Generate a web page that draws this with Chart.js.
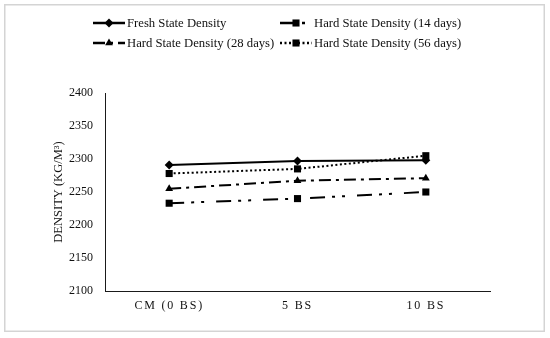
<!DOCTYPE html>
<html><head><meta charset="utf-8">
<script src="https://cdn.jsdelivr.net/npm/chart.js@4/dist/chart.umd.min.js"></script>
<style>html,body{margin:0;padding:0;background:#fff}#wrap{width:550px;height:338px;position:relative}</style>
</head><body><div id="wrap"><canvas id="c" width="550" height="338"></canvas></div>
<script>
const categories = ['CM (0 BS)', '5 BS', '10 BS'];
const seriesLabels = ['Fresh State Density', 'Hard State Density (14 days)', 'Hard State Density (28 days)', 'Hard State Density (56 days)'];
const freshState = [2291, 2297, 2298];
const hard14 = [2233, 2240, 2250];
const hard28 = [2255, 2267, 2271];
const hard56 = [2278, 2285, 2305];
const yMin = 2100, yMax = 2400, yStep = 50;
const yTitle = 'DENSITY (KG/M³)';

const FONT = "'Liberation Serif', 'Times New Roman', serif";
const INK = '#111';
Chart.defaults.font.family = FONT;

const framePlugin = {
  id: 'frame',
  beforeDraw(chart) {
    const ctx = chart.ctx;
    ctx.save();
    ctx.fillStyle = '#fff';
    ctx.fillRect(0, 0, chart.width, chart.height);
    ctx.strokeStyle = '#d4d4d4';
    ctx.lineWidth = 1.5;
    ctx.strokeRect(4.75, 4.75, 539.5, 326.5);
    ctx.restore();
    const xs = chart.scales.x;
    if (xs && !xs._spaced) {
      const orig = xs.drawLabels;
      xs.drawLabels = function (a) {
        const c = this.ctx; c.save(); c.letterSpacing = '1.8px'; orig.call(this, a); c.restore();
      };
      xs._spaced = true;
    }
  }
};

const legendPlugin = {
  id: 'gridLegend',
  afterDraw(chart) {
    const ctx = chart.ctx;
    const pos = [[93, 23], [280, 23], [93, 43], [280, 43]];
    chart.data.datasets.forEach((ds, i) => {
      const [x, y] = pos[i];
      ctx.save();
      ctx.strokeStyle = ds.borderColor;
      ctx.lineWidth = 2.5;
      ctx.setLineDash(ds.borderDash || []);
      ctx.beginPath(); ctx.moveTo(x, y); ctx.lineTo(x + 32, y); ctx.stroke();
      ctx.setLineDash([]);
      ctx.fillStyle = ds.pointBackgroundColor;
      ctx.strokeStyle = ds.pointBackgroundColor;
      Chart.helpers.drawPoint(ctx, {pointStyle: ds.pointStyle, radius: ds.pointRadius, rotation: 0, borderWidth: 0}, x + 16, y);
      ctx.fillStyle = INK;
      ctx.font = "12.7px " + FONT;
      ctx.textBaseline = 'middle';
      ctx.textAlign = 'left';
      ctx.fillText(ds.label, x + 34, y + 0.5);
      ctx.restore();
    });
  }
};

function mk(label, data, dash, style, r, order) {
  return {
    label, data, order,
    borderColor: '#000', backgroundColor: '#000',
    pointBackgroundColor: '#000', pointBorderColor: '#000', pointBorderWidth: 0,
    borderWidth: 2, borderDash: dash, pointStyle: style, pointRadius: r, pointHoverRadius: r,
    tension: 0, fill: false
  };
}

new Chart(document.getElementById('c'), {
  type: 'line',
  data: {
    labels: categories,
    datasets: [
      mk(seriesLabels[0], freshState, [], 'rectRot', 4.5, 4),
      mk(seriesLabels[1], hard14, [15, 7, 3, 7, 3, 12], 'rect', 5, 3),
      mk(seriesLabels[2], hard28, [12, 5, 3, 5], 'triangle', 4.5, 2),
      mk(seriesLabels[3], hard56, [2, 2.5], 'rect', 5, 1)
    ]
  },
  options: {
    responsive: false,
    animation: false,
    devicePixelRatio: 1,
    layout: {padding: {left: 0, right: 60, top: 93, bottom: 5}},
    plugins: {legend: {display: false}, tooltip: {enabled: false}, title: {display: false}},
    scales: {
      x: {
        type: 'category', offset: true,
        grid: {display: false, drawTicks: false},
        border: {display: true, color: '#1a1a1a', width: 1},
        ticks: {color: INK, font: {family: FONT, size: 12}, padding: 8, maxRotation: 0},
        afterFit(s) { s.height = 42; }
      },
      y: {
        min: yMin, max: yMax,
        grid: {display: false, drawTicks: false},
        border: {display: true, color: '#1a1a1a', width: 1},
        ticks: {stepSize: yStep, color: INK, font: {family: FONT, size: 12}, padding: 12,
                callback: v => String(v)},
        title: {display: true, text: yTitle, color: INK, font: {family: FONT, size: 12.5}, padding: {top: 51, bottom: 0}},
        afterFit(s) { s.width = 105; }
      }
    }
  },
  plugins: [framePlugin, legendPlugin]
});
</script>
</body></html>
